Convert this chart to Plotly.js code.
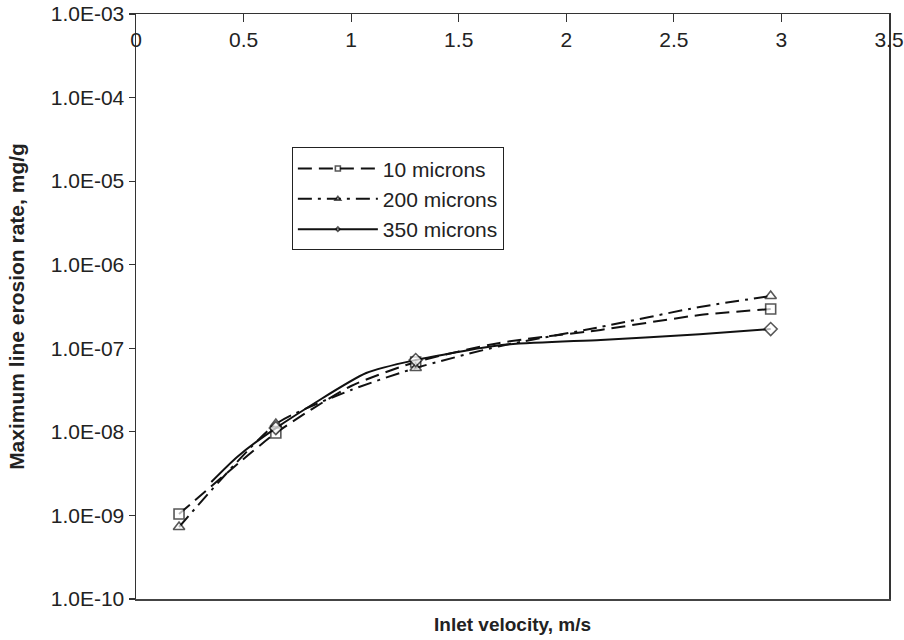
<!DOCTYPE html>
<html>
<head>
<meta charset="utf-8">
<script src="https://cdn.plot.ly/plotly-3.0.1.min.js"></script>
<style>html,body{margin:0;padding:0;background:#fff;}#chart{width:904px;height:640px;}</style>
</head>
<body>
<div id="chart"></div>
<script>
// Inlet velocity (m/s) and maximum line erosion rate (mg/g)
const velocity10 = [0.2, 0.65, 1.0, 1.3, 1.69, 2.16, 2.62, 2.95];
const erosion10  = [1.04e-9, 9.7e-9, 3.54e-8, 6.85e-8, 1.16e-7, 1.66e-7, 2.50e-7, 2.95e-7];
const measured10 = [1, 1, 0, 1, 0, 0, 0, 1];

const velocity200 = [0.2, 0.65, 1.0, 1.3, 1.69, 2.16, 2.62, 2.95];
const erosion200  = [7.27e-10, 1.24e-8, 3.17e-8, 5.81e-8, 1.06e-7, 1.80e-7, 3.12e-7, 4.22e-7];
const measured200 = [1, 1, 0, 1, 0, 0, 0, 1];

const velocity350 = [0.35, 0.47, 0.65, 1.07, 1.3, 1.69, 2.16, 2.62, 2.95];
const erosion350  = [2.51e-9, 5.0e-9, 1.11e-8, 5.06e-8, 7.24e-8, 1.09e-7, 1.26e-7, 1.47e-7, 1.70e-7];
const measured350 = [0, 0, 1, 0, 1, 0, 0, 0, 1];

const seriesNames = ['10 microns', '200 microns', '350 microns'];

const yTickValues = [1e-10, 1e-9, 1e-8, 1e-7, 1e-6, 1e-5, 1e-4, 1e-3];
const yTickLabels = ['1.0E-10', '1.0E-09', '1.0E-08', '1.0E-07', '1.0E-06', '1.0E-05', '1.0E-04', '1.0E-03'];

const FONT = 'Liberation Sans, Arial, Helvetica, sans-serif';

function sizes(flags, s) { return flags.map(f => f ? s : 0); }

const traces = [
  {
    x: velocity10, y: erosion10, name: seriesNames[0], type: 'scatter', mode: 'lines+markers',
    line: {color: '#111', width: 2, dash: '14px,7px', shape: 'spline', smoothing: 0.6},
    marker: {symbol: 'square', size: sizes(measured10, 10), color: '#fff', line: {color: '#111', width: 1.6}}
  },
  {
    x: velocity200, y: erosion200, name: seriesNames[1], type: 'scatter', mode: 'lines+markers',
    line: {color: '#111', width: 2, dash: '14px,6px,3px,6px', shape: 'spline', smoothing: 0.6},
    marker: {symbol: 'triangle-up', size: sizes(measured200, 10), color: '#fff', line: {color: '#111', width: 1.6}}
  },
  {
    x: velocity350, y: erosion350, name: seriesNames[2], type: 'scatter', mode: 'lines+markers',
    line: {color: '#111', width: 2, shape: 'spline', smoothing: 0.6},
    marker: {symbol: 'diamond', size: sizes(measured350, 10), color: '#fff', line: {color: '#111', width: 1.6}}
  }
];

const layout = {
  width: 904, height: 640,
  margin: {l: 136, r: 15, t: 14, b: 41},
  paper_bgcolor: '#fff', plot_bgcolor: '#fff',
  font: {family: FONT, color: '#222', size: 20},
  showlegend: true,
  legend: {
    x: 0.207, y: 0.772, xanchor: 'left', yanchor: 'top',
    bgcolor: '#fff', bordercolor: '#222', borderwidth: 1,
    font: {family: FONT, size: 21, color: '#222'},
    traceorder: 'normal', itemwidth: 80
  },
  xaxis: {
    range: [0, 3.5], showgrid: false, zeroline: false,
    showline: true, linecolor: '#444', linewidth: 1.5, mirror: false,
    showticklabels: false, ticks: '',
    title: {text: '<b>Inlet velocity, m/s</b>', font: {family: FONT, size: 19, color: '#222'}, standoff: 18}
  },
  xaxis2: {
    overlaying: 'x', matches: 'x', side: 'top', anchor: 'y',
    range: [0, 3.5], tick0: 0, dtick: 0.5, showgrid: false, zeroline: false,
    showline: true, linecolor: '#333', linewidth: 1.5,
    ticks: 'inside', ticklen: 8, tickwidth: 1.2, tickcolor: '#333',
    ticklabelstandoff: -43,
    tickfont: {family: FONT, size: 21, color: '#222'}
  },
  yaxis: {
    type: 'log', range: [-10, -3], showgrid: false, zeroline: false,
    showline: true, linecolor: '#333', linewidth: 1.5, mirror: true,
    tickmode: 'array', tickvals: yTickValues, ticktext: yTickLabels,
    ticks: 'outside', ticklen: 6, tickwidth: 1.2, tickcolor: '#333',
    tickfont: {family: FONT, size: 21, color: '#222'},
    title: {text: '<b>Maximum line erosion rate, mg/g</b>', font: {family: FONT, size: 21, color: '#222'}, standoff: 20}
  }
};

// invisible helper so the top axis carries the tick labels
traces.push({x: [0, 3.5], y: [1e-10, 1e-10], xaxis: 'x2', yaxis: 'y', type: 'scatter', mode: 'none', showlegend: false, hoverinfo: 'skip'});

Plotly.newPlot('chart', traces, layout, {staticPlot: true});
</script>
</body>
</html>
